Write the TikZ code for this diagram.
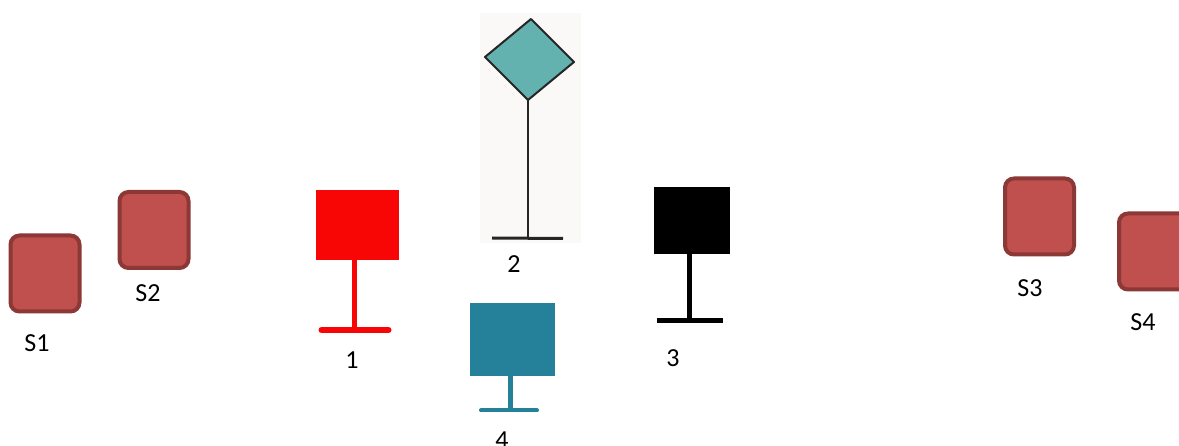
\documentclass[tikz,border=0pt]{standalone}
\usepackage{fontspec}
\setmainfont{Carlito}
\definecolor{sfill}{HTML}{C0504D}
\definecolor{sline}{HTML}{8C3836}
\definecolor{sred}{HTML}{F80505}
\definecolor{steal}{HTML}{25809A}
\definecolor{sdia}{HTML}{63B2B0}
\definecolor{sbg}{HTML}{FAF9F7}
\tikzset{
  sbox/.style={draw=sline, fill=sfill, line width=4pt, rounded corners=9pt, minimum width=69pt, minimum height=76pt, inner sep=0pt},
  lbl/.style={font=\fontsize{26}{30}\selectfont, inner sep=0pt},
  signbox/.style={minimum width=#1, inner sep=0pt, outer sep=0pt},
}
\begin{document}
\begin{tikzpicture}[x=1pt,y=-1pt]
\useasboundingbox (0,0) rectangle (1179,446);
\clip (0,0) rectangle (1179,446);
\fill[white] (0,0) rectangle (1179,446);
% S boxes
\node[sbox] (s1) at (45,273.5) {};
\node[sbox] (s2) at (154,230) {};
\node[sbox] (s3) at (1039.5,216.5) {};
\node[sbox] (s4) at (1153.5,251.5) {};
\node[lbl] (l1) at (37,343) {S1};
\node[lbl] (l2) at (148,293) {S2};
\node[lbl] (l3) at (1030,288) {S3};
\node[lbl] (l4) at (1143,322) {S4};
% sign 1 (red)
\node[fill=sred, minimum width=83pt, minimum height=70pt, inner sep=0pt] (r1) at (357.5,225) {};
\coordinate (r1b) at (354.5,330);
\draw[sred, line width=5.5pt] (r1.south -| r1b) -- (r1b);
\draw[sred, line width=6pt, line cap=round] ([xshift=-33pt]r1b) -- ([xshift=34pt]r1b);
\node[lbl] (n1) at (352,360) {1};
% sign 2 (diamond)
\fill[sbg] (480,13) rectangle (581,243);
\coordinate (dt) at (531,19);
\coordinate (dr) at (574,62);
\coordinate (db) at (528,100);
\coordinate (dl) at (485,57);
\draw[fill=sdia, draw=black!85, line width=2pt, line join=round] (dt) -- (dr) -- (db) -- (dl) -- cycle;
\coordinate (d2b) at (528,238);
\draw[black!85, line width=2.5pt] (db) -- (d2b);
\draw[black!85, line width=3pt] (492,238) -- (563,238.5);
\node[lbl] (n2) at (514,264) {2};
% sign 3 (black)
\node[fill=black, minimum width=76pt, minimum height=67pt, inner sep=0pt] (b3) at (692,220.5) {};
\coordinate (b3b) at (689.5,320.5);
\draw[black, line width=5pt] (b3.south -| b3b) -- (b3b);
\draw[black, line width=5pt] ([xshift=-33pt]b3b) -- ([xshift=33pt]b3b);
\node[lbl] (n3) at (673,358) {3};
% sign 4 (teal)
\node[fill=steal, minimum width=85pt, minimum height=73pt, inner sep=0pt] (t4) at (512.5,339.5) {};
\coordinate (t4b) at (510,410.5);
\draw[steal, line width=5pt] (t4.south -| t4b) -- (t4b);
\draw[steal, line width=4pt, line cap=round] ([xshift=-29pt]t4b) -- ([xshift=27pt]t4b);
\node[lbl] (n4) at (502,440) {4};
\end{tikzpicture}
\end{document}
